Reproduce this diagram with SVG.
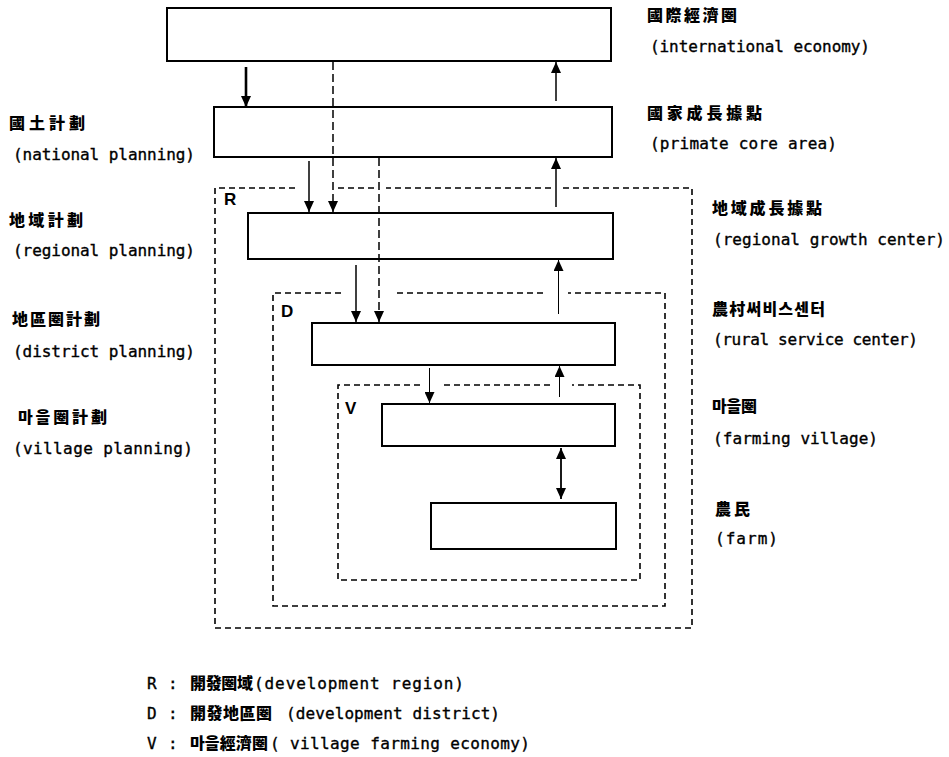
<svg xmlns="http://www.w3.org/2000/svg" width="949" height="757" viewBox="0 0 949 757">
<style>
.box{fill:#fff;stroke:#000;stroke-width:2}
.frame{fill:none;stroke:#000;stroke-width:1.6;stroke-dasharray:6 4}
.en{font-family:"DejaVu Sans Mono","Liberation Mono",monospace;font-size:16px;fill:#000;stroke:#000;stroke-width:0.35}
.cj{font-family:"Noto Sans CJK KR","Noto Sans CJK TC",sans-serif;font-size:16px;font-weight:900;fill:#000}
.tag{font-family:"Liberation Sans","DejaVu Sans",sans-serif;font-size:17px;font-weight:700;fill:#000}
.sol{stroke:#000;fill:none}
.dsh{stroke:#000;fill:none;stroke-width:1.5;stroke-dasharray:8 4}
</style>
<defs>
<marker id="ah" markerUnits="userSpaceOnUse" markerWidth="12" markerHeight="10" viewBox="0 0 12 10" refX="11" refY="5" orient="auto-start-reverse">
<path d="M0,0 L11,5 L0,10 Z" fill="#000"/>
</marker>
</defs>
<rect width="949" height="757" fill="#fff"/>

<g id="frames">
<g id="frame-R">
<path class="frame" d="M295,188 H215 V628 H692 V188 H562 M551,188 H386 M374,188 H336"/>
<text class="tag" x="224" y="205">R</text>
</g>
<g id="frame-D">
<path class="frame" d="M341,293 H273 V606 H665 V293 H568 M543,293 H393"/>
<text class="tag" x="281" y="317">D</text>
</g>
<g id="frame-V">
<path class="frame" d="M420,385 H338 V580 H640 V385 H572 M550,385 H442"/>
<text class="tag" x="345" y="414">V</text>
</g>
</g>

<g id="node-international"><rect class="box" x="167" y="8" width="444" height="53"/></g>
<g id="node-national"><rect class="box" x="214" y="107" width="398" height="50"/></g>
<g id="node-regional"><rect class="box" x="248" y="213" width="365" height="46"/></g>
<g id="node-district"><rect class="box" x="312" y="323" width="303" height="42"/></g>
<g id="node-village"><rect class="box" x="382" y="404" width="233" height="42"/></g>
<g id="node-farm"><rect class="box" x="431" y="503" width="185" height="46"/></g>

<g id="connectors">
<line class="sol" x1="246" y1="67" x2="246" y2="107" stroke-width="2.6" marker-end="url(#ah)"/>
<line class="dsh" x1="333" y1="62" x2="333" y2="212" marker-end="url(#ah)"/>
<line class="sol" x1="309" y1="161" x2="309" y2="212" stroke-width="1.5" marker-end="url(#ah)"/>
<line class="dsh" x1="379" y1="158" x2="379" y2="322" marker-end="url(#ah)"/>
<line class="sol" x1="556" y1="101" x2="556" y2="62" stroke-width="1.5" marker-end="url(#ah)"/>
<line class="sol" x1="556" y1="207" x2="556" y2="158" stroke-width="1.5" marker-end="url(#ah)"/>
<line class="sol" x1="356" y1="265" x2="356" y2="322" stroke-width="1.5" marker-end="url(#ah)"/>
<line class="sol" x1="558.5" y1="314" x2="558.5" y2="260" stroke-width="1" marker-end="url(#ah)"/>
<line class="sol" x1="429.5" y1="368" x2="429.5" y2="403" stroke-width="1" marker-end="url(#ah)"/>
<line class="sol" x1="559.5" y1="397" x2="559.5" y2="366" stroke-width="1" marker-end="url(#ah)"/>
<line class="sol" x1="561" y1="448" x2="561" y2="499" stroke-width="1.8" marker-start="url(#ah)" marker-end="url(#ah)"/>
</g>

<g id="labels-left">
<text class="cj" x="9" y="129" textLength="76">國土計劃</text>
<text class="en" x="13" y="160" textLength="182">(national planning)</text>
<text class="cj" x="9" y="226" textLength="74">地域計劃</text>
<text class="en" x="13" y="256" textLength="182">(regional planning)</text>
<text class="cj" x="12" y="325" textLength="88">地區圈計劃</text>
<text class="en" x="13" y="357" textLength="182">(district planning)</text>
<text class="cj" x="18" y="423" textLength="89">마을圈計劃</text>
<text class="en" x="13" y="454" textLength="180">(village planning)</text>
</g>

<g id="labels-right">
<text class="cj" x="647" y="21" textLength="90">國際經濟圈</text>
<text class="en" x="650" y="52" textLength="220">(international economy)</text>
<text class="cj" x="647" y="119" textLength="115">國家成長據點</text>
<text class="en" x="650" y="149" textLength="187">(primate core area)</text>
<text class="cj" x="712" y="214" textLength="110">地域成長據點</text>
<text class="en" x="713" y="245" textLength="232">(regional growth center)</text>
<text class="cj" x="712" y="315" textLength="113">農村써비스센터</text>
<text class="en" x="713" y="345" textLength="205">(rural service center)</text>
<text class="cj" x="712" y="412" textLength="45">마을圈</text>
<text class="en" x="713" y="444" textLength="165">(farming village)</text>
<text class="cj" x="715" y="515" textLength="35">農民</text>
<text class="en" x="715" y="544" textLength="63">(farm)</text>
</g>

<g id="legend">
<text class="en" x="147" y="689">R</text>
<text class="en" x="168" y="689">:</text>
<text class="cj" x="190" y="689" textLength="63">開發圈域</text>
<text class="en" x="254" y="689" textLength="210">(development region)</text>
<text class="en" x="147" y="719">D</text>
<text class="en" x="168" y="719">:</text>
<text class="cj" x="190" y="719" textLength="82">開發地區圈</text>
<text class="en" x="286" y="719" textLength="214">(development district)</text>
<text class="en" x="147" y="749">V</text>
<text class="en" x="168" y="749">:</text>
<text class="cj" x="190" y="749" textLength="78">마을經濟圈</text>
<text class="en" x="270" y="749" textLength="260">( village farming economy)</text>
</g>
</svg>
